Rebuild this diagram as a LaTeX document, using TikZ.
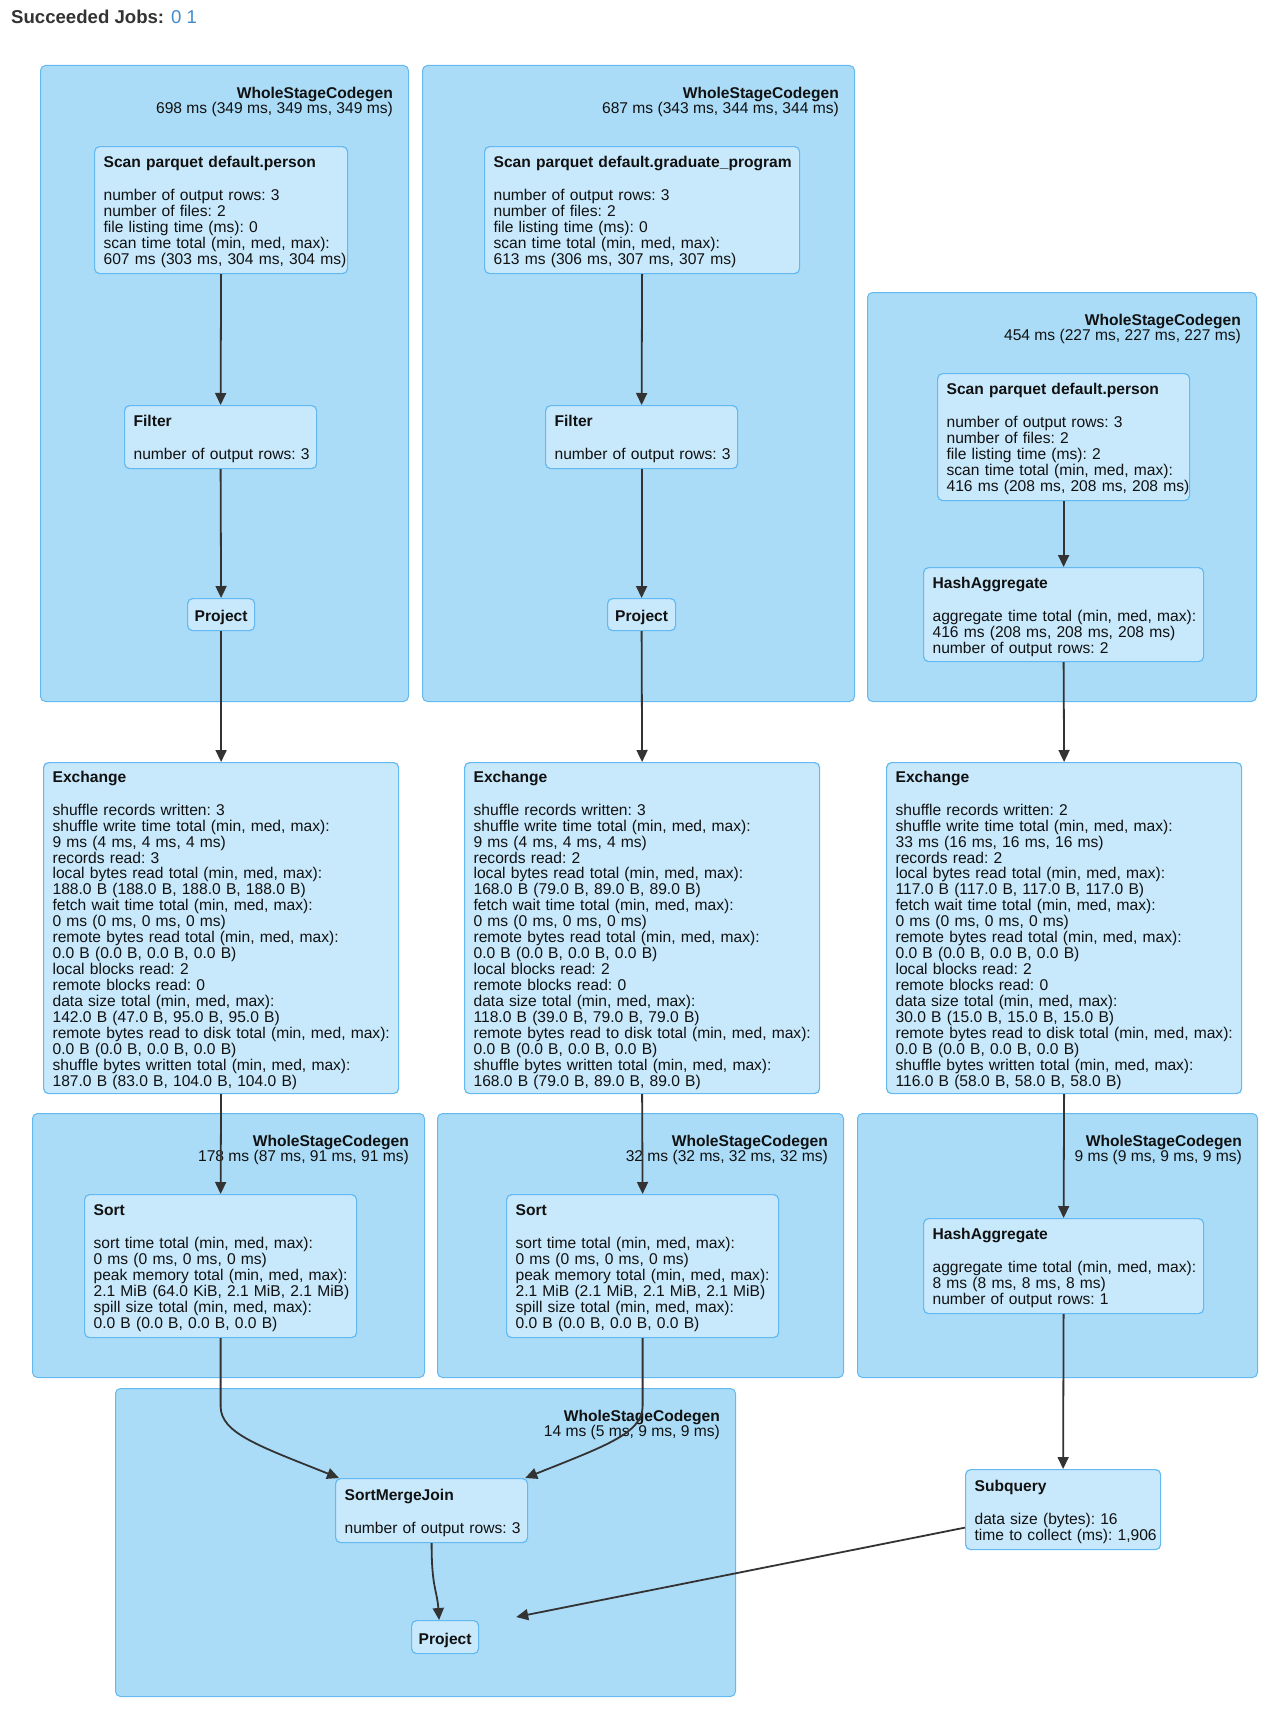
\documentclass[tikz,border=0pt]{standalone}
\usepackage{fontspec}
\setmainfont{Liberation Sans}
\usetikzlibrary{arrows.meta,calc}

\definecolor{wscfill}{HTML}{AADCF8}
\definecolor{opfill}{HTML}{C8E9FC}
\definecolor{edgeblue}{HTML}{64B9F0}
\definecolor{ink}{HTML}{111111}
\definecolor{headink}{HTML}{333333}
\definecolor{linkblue}{HTML}{428BCA}
\definecolor{wire}{HTML}{333333}

% metric text: plain word spacing
\newcommand\opfont{\fontsize{15.6}{15.6}\selectfont\frenchspacing}
% sit a text block a little below the box centre
\newcommand\opshift[1]{\raisebox{-3pt}[\height][\depth]{#1}}
% an operator's text: bold title, a gap, then one metric per line (lines never wrap)
\newcommand\opbody[2]{\opshift{\begin{tabular}{@{}l@{}}\textbf{#1}\\[17pt]#2\end{tabular}}}

\tikzset{
  wsc/.style={draw=edgeblue, fill=wscfill, line width=1pt, rounded corners=5pt,
    anchor=north west, inner sep=0pt},
  wsclabel/.style={anchor=north east, align=right, inner sep=0pt, font=\opfont, text=ink},
  op/.style={draw=edgeblue, fill=opfill, line width=1.2pt, rounded corners=5pt,
    anchor=north west, inner xsep=9pt, inner ysep=0pt, align=left, font=\opfont, text=ink},
  opsmall/.style={op, align=center, inner xsep=0pt, font=\opfont\bfseries},
  flow/.style={draw=wire, line width=1.8pt, -{Triangle[length=12pt,width=11pt]}},
}

\begin{document}
\begin{tikzpicture}[x=1pt, y=-1pt]
\fill[white] (0,0) rectangle (1276,1710);
\useasboundingbox (0,0) rectangle (1276,1710);

% page heading
\node[anchor=base west, inner sep=0pt, font=\fontsize{18.6}{20}\selectfont, text=headink] (jobs) at (11,24)
  {\textbf{Succeeded Jobs:} \textcolor{linkblue}{0 1}};

% whole-stage codegen clusters
\node[wsc, minimum width=368pt, minimum height=636pt] (wscA) at (40,65) {};
\node[wsc, minimum width=432pt, minimum height=636pt] (wscB) at (422,65) {};
\node[wsc, minimum width=389pt, minimum height=409pt] (wscC) at (867,292) {};
\node[wsc, minimum width=392pt, minimum height=264pt] (wscD) at (32,1113) {};
\node[wsc, minimum width=406pt, minimum height=264pt] (wscE) at (437,1113) {};
\node[wsc, minimum width=400pt, minimum height=264pt] (wscF) at (857,1113) {};
\node[wsc, minimum width=620pt, minimum height=308pt] (wscG) at (115,1388) {};

\node[wsclabel] (labA) at ($(wscA.north east)+(-16,21.5)$) {\textbf{WholeStageCodegen}\\698 ms (349 ms, 349 ms, 349 ms)};
\node[wsclabel] (labB) at ($(wscB.north east)+(-16,21.5)$) {\textbf{WholeStageCodegen}\\687 ms (343 ms, 344 ms, 344 ms)};
\node[wsclabel] (labC) at ($(wscC.north east)+(-16,21.5)$) {\textbf{WholeStageCodegen}\\454 ms (227 ms, 227 ms, 227 ms)};
\node[wsclabel] (labD) at ($(wscD.north east)+(-16,21.5)$) {\textbf{WholeStageCodegen}\\178 ms (87 ms, 91 ms, 91 ms)};
\node[wsclabel] (labE) at ($(wscE.north east)+(-16,21.5)$) {\textbf{WholeStageCodegen}\\32 ms (32 ms, 32 ms, 32 ms)};
\node[wsclabel] (labF) at ($(wscF.north east)+(-16,21.5)$) {\textbf{WholeStageCodegen}\\9 ms (9 ms, 9 ms, 9 ms)};
\node[wsclabel] (labG) at ($(wscG.north east)+(-16,21.5)$) {\textbf{WholeStageCodegen}\\14 ms (5 ms, 9 ms, 9 ms)};

% left branch
\node[op, text width=235pt, minimum height=127pt] (scanA) at (94,146)
  {\opbody{Scan parquet default.person}{number of output rows: 3\\number of files: 2\\file listing time (ms): 0\\scan time total (min, med, max):\\607 ms (303 ms, 304 ms, 304 ms)}};
\node[op, text width=174pt, minimum height=63pt] (filterA) at (124,405)
  {\opbody{Filter}{number of output rows: 3}};
\node[opsmall, minimum width=67pt, minimum height=32pt] (projA) at (187,598) {\opshift{Project}};

% middle branch
\node[op, text width=297pt, minimum height=127pt] (scanB) at (484,146)
  {\opbody{Scan parquet default.graduate\_program}{number of output rows: 3\\number of files: 2\\file listing time (ms): 0\\scan time total (min, med, max):\\613 ms (306 ms, 307 ms, 307 ms)}};
\node[op, text width=174pt, minimum height=63pt] (filterB) at (545,405)
  {\opbody{Filter}{number of output rows: 3}};
\node[opsmall, minimum width=68pt, minimum height=32pt] (projB) at (607,598) {\opshift{Project}};

% right branch
\node[op, text width=234pt, minimum height=127pt] (scanC) at (937,373)
  {\opbody{Scan parquet default.person}{number of output rows: 3\\number of files: 2\\file listing time (ms): 2\\scan time total (min, med, max):\\416 ms (208 ms, 208 ms, 208 ms)}};
\node[op, text width=262pt, minimum height=94pt] (haggC) at (923,567)
  {\opbody{HashAggregate}{aggregate time total (min, med, max):\\416 ms (208 ms, 208 ms, 208 ms)\\number of output rows: 2}};

% exchanges
\node[op, text width=337pt, minimum height=331pt] (exchA) at (43,762)
  {\opbody{Exchange}{shuffle records written: 3\\shuffle write time total (min, med, max):\\9 ms (4 ms, 4 ms, 4 ms)\\records read: 3\\local bytes read total (min, med, max):\\188.0 B (188.0 B, 188.0 B, 188.0 B)\\fetch wait time total (min, med, max):\\0 ms (0 ms, 0 ms, 0 ms)\\remote bytes read total (min, med, max):\\0.0 B (0.0 B, 0.0 B, 0.0 B)\\local blocks read: 2\\remote blocks read: 0\\data size total (min, med, max):\\142.0 B (47.0 B, 95.0 B, 95.0 B)\\remote bytes read to disk total (min, med, max):\\0.0 B (0.0 B, 0.0 B, 0.0 B)\\shuffle bytes written total (min, med, max):\\187.0 B (83.0 B, 104.0 B, 104.0 B)}};
\node[op, text width=337pt, minimum height=331pt] (exchB) at (464,762)
  {\opbody{Exchange}{shuffle records written: 3\\shuffle write time total (min, med, max):\\9 ms (4 ms, 4 ms, 4 ms)\\records read: 2\\local bytes read total (min, med, max):\\168.0 B (79.0 B, 89.0 B, 89.0 B)\\fetch wait time total (min, med, max):\\0 ms (0 ms, 0 ms, 0 ms)\\remote bytes read total (min, med, max):\\0.0 B (0.0 B, 0.0 B, 0.0 B)\\local blocks read: 2\\remote blocks read: 0\\data size total (min, med, max):\\118.0 B (39.0 B, 79.0 B, 79.0 B)\\remote bytes read to disk total (min, med, max):\\0.0 B (0.0 B, 0.0 B, 0.0 B)\\shuffle bytes written total (min, med, max):\\168.0 B (79.0 B, 89.0 B, 89.0 B)}};
\node[op, text width=337pt, minimum height=331pt] (exchC) at (886,762)
  {\opbody{Exchange}{shuffle records written: 2\\shuffle write time total (min, med, max):\\33 ms (16 ms, 16 ms, 16 ms)\\records read: 2\\local bytes read total (min, med, max):\\117.0 B (117.0 B, 117.0 B, 117.0 B)\\fetch wait time total (min, med, max):\\0 ms (0 ms, 0 ms, 0 ms)\\remote bytes read total (min, med, max):\\0.0 B (0.0 B, 0.0 B, 0.0 B)\\local blocks read: 2\\remote blocks read: 0\\data size total (min, med, max):\\30.0 B (15.0 B, 15.0 B, 15.0 B)\\remote bytes read to disk total (min, med, max):\\0.0 B (0.0 B, 0.0 B, 0.0 B)\\shuffle bytes written total (min, med, max):\\116.0 B (58.0 B, 58.0 B, 58.0 B)}};

% sorts and final aggregate
\node[op, text width=254pt, minimum height=143pt] (sortA) at (84,1194)
  {\opbody{Sort}{sort time total (min, med, max):\\0 ms (0 ms, 0 ms, 0 ms)\\peak memory total (min, med, max):\\2.1 MiB (64.0 KiB, 2.1 MiB, 2.1 MiB)\\spill size total (min, med, max):\\0.0 B (0.0 B, 0.0 B, 0.0 B)}};
\node[op, text width=254pt, minimum height=143pt] (sortB) at (506,1194)
  {\opbody{Sort}{sort time total (min, med, max):\\0 ms (0 ms, 0 ms, 0 ms)\\peak memory total (min, med, max):\\2.1 MiB (2.1 MiB, 2.1 MiB, 2.1 MiB)\\spill size total (min, med, max):\\0.0 B (0.0 B, 0.0 B, 0.0 B)}};
\node[op, text width=262pt, minimum height=95pt] (haggF) at (923,1218)
  {\opbody{HashAggregate}{aggregate time total (min, med, max):\\8 ms (8 ms, 8 ms, 8 ms)\\number of output rows: 1}};

% join, projection and subquery
\node[op, text width=174pt, minimum height=64pt] (smj) at (335,1478)
  {\opbody{SortMergeJoin}{number of output rows: 3}};
\node[opsmall, minimum width=67pt, minimum height=33pt] (projG) at (411,1620) {\opshift{Project}};
\node[op, text width=177pt, minimum height=80pt] (subq) at (965,1469)
  {\opbody{Subquery}{data size (bytes): 16\\time to collect (ms): 1,906}};

% edges
\draw[flow] (scanA.south) -- (filterA.north);
\draw[flow] (filterA.south) -- (projA.north);
\draw[flow] (projA.south) -- (exchA.north);
\draw[flow] (exchA.south) -- (sortA.north);

\draw[flow] (scanB.south) -- (filterB.north);
\draw[flow] (filterB.south) -- (projB.north);
\draw[flow] (projB.south) -- (exchB.north);
\draw[flow] (exchB.south) -- (sortB.north);

\draw[flow] (scanC.south) -- (haggC.north);
\draw[flow] (haggC.south) -- (exchC.north);
\draw[flow] (exchC.south) -- (haggF.north);
\draw[flow] (haggF.south) -- (subq.north);

\draw[flow] (sortA.south) -- ++(0,68) .. controls +(0,27) and +(-80,-32) .. ($(smj.north west)+(4,0)$);
\draw[flow] (sortB.south) -- ++(0,68) .. controls +(0,27) and +(80,-32) .. ($(smj.north east)+(-3,0)$);
\draw[flow] (smj.south) .. controls +(0,45) and +(-2,-30) .. ($(projG.north)+(-6,0)$);
\coordinate (subqEnd) at ($(projG.north east)+(37,-3)$);
\draw[flow] ($(subq.west)+(0,18)$) -- (subqEnd);
\end{tikzpicture}
\end{document}
